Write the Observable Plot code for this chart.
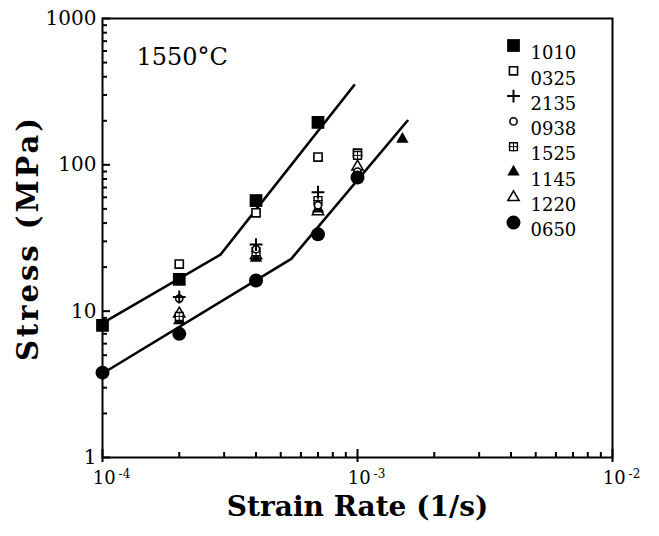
<!DOCTYPE html>
<html>
<head>
<meta charset="utf-8">
<script src="https://cdn.jsdelivr.net/npm/d3@7"></script>
<script src="https://cdn.jsdelivr.net/npm/@observablehq/plot@0.6"></script>
<style>
  html, body { margin: 0; padding: 0; background: #fff; }
</style>
</head>
<body>
<div id="chart"></div>
<script>
// Series names (legend order)
const seriesNames = ["1010", "0325", "2135", "0938", "1525", "1145", "1220", "0650"];

// Measured points: strain rate (1/s) and stress (MPa) per specimen
const rate1010 = [1e-4, 2e-4, 4e-4, 7e-4];
const stress1010 = [8.0, 16.5, 57, 195];
const rate0325 = [2e-4, 4e-4, 7e-4, 1e-3];
const stress0325 = [21, 47, 113, 120];
const rate2135 = [2e-4, 4e-4, 7e-4];
const stress2135 = [12.5, 28.5, 65];
const rate0938 = [2e-4, 4e-4, 7e-4, 1e-3];
const stress0938 = [12.2, 26.5, 53, 90];
const rate1525 = [2e-4, 4e-4, 7e-4, 1e-3];
const stress1525 = [9.2, 25.5, 57, 116];
const rate1145 = [2e-4, 4e-4, 7e-4, 1.5e-3];
const stress1145 = [8.6, 23, 50, 150];
const rate1220 = [2e-4, 4e-4, 7e-4, 1e-3];
const stress1220 = [9.6, 24, 48, 97];
const rate0650 = [1e-4, 2e-4, 4e-4, 7e-4, 1e-3];
const stress0650 = [3.8, 7.0, 16.2, 33.5, 82];

// Fitted lines (two-segment)
const upperRate = [1e-4, 2.9e-4, 9.7e-4];
const upperStress = [8.3, 24.3, 350];
const lowerRate = [1e-4, 5.5e-4, 1.57e-3];
const lowerStress = [3.75, 22.8, 200];

// Axis ticks
const yMajor = [1, 10, 100, 1000];
const yMinor = [2,3,4,5,6,7,8,9,20,30,40,50,60,70,80,90,200,300,400,500,600,700,800,900];
const xMajor = [1e-4, 1e-3, 1e-2];
const xMinor = [2e-4,3e-4,4e-4,5e-4,6e-4,7e-4,8e-4,9e-4,2e-3,3e-3,4e-3,5e-3,6e-3,7e-3,8e-3,9e-3];

const title = "1550°C";
const xLabel = "Strain Rate (1/s)";
const yLabel = "Stress (MPa)";

const zip = (xs, ys) => xs.map((x, i) => ({x, y: ys[i]}));
const pts = {
  "1010": zip(rate1010, stress1010),
  "0325": zip(rate0325, stress0325),
  "2135": zip(rate2135, stress2135),
  "0938": zip(rate0938, stress0938),
  "1525": zip(rate1525, stress1525),
  "1145": zip(rate1145, stress1145),
  "1220": zip(rate1220, stress1220),
  "0650": zip(rate0650, stress0650)
};

// marker styles
const styles = {
  "1010": [{symbol: "square", r: 7.2, fill: "black", stroke: "none"}],
  "0325": [{symbol: "square", r: 4.6, fill: "white", stroke: "black", strokeWidth: 1.6}],
  "2135": [{symbol: "plus", r: 4.2, fill: "none", stroke: "black", strokeWidth: 2}],
  "0938": [{symbol: "circle", r: 3.6, fill: "white", stroke: "black", strokeWidth: 1.6}],
  "1525": [{symbol: "square", r: 4.4, fill: "white", stroke: "black", strokeWidth: 1.4},
           {symbol: "plus", r: 3.2, fill: "none", stroke: "black", strokeWidth: 1}],
  "1145": [{symbol: "triangle", r: 4.6, fill: "black", stroke: "none"}],
  "1220": [{symbol: "triangle", r: 4.2, fill: "white", stroke: "black", strokeWidth: 1.5}],
  "0650": [{symbol: "circle", r: 7, fill: "black", stroke: "none"}]
};

const marks = [];
// fitted lines
marks.push(Plot.line(zip(upperRate, upperStress), {x: "x", y: "y", stroke: "black", strokeWidth: 2.6}));
marks.push(Plot.line(zip(lowerRate, lowerStress), {x: "x", y: "y", stroke: "black", strokeWidth: 2.6}));

// points
const drawOrder = ["0325", "1220", "1145", "1525", "0938", "2135", "0650", "1010"];
for (const name of drawOrder) {
  for (const st of styles[name]) {
    marks.push(Plot.dot(pts[name], {x: "x", y: "y", ...st}));
  }
}

// legend (inside frame, top-right)
seriesNames.forEach((name, i) => {
  for (const st of styles[name]) {
    marks.push(Plot.dot([name], {frameAnchor: "top-left", dx: 411, dy: 27 + 25.3 * i, ...st}));
  }
  marks.push(Plot.text([name], {text: d => d, frameAnchor: "top-left", dx: 428, dy: 28 + 25.3 * i,
    textAnchor: "start", fontSize: 18, fill: "black"}));
});

// title in plot
marks.push(Plot.text([title], {text: d => d, frameAnchor: "top-left", dx: 34, dy: 29, textAnchor: "start",
  fontSize: 24, fill: "black"}));

// axes labels
marks.push(Plot.text([yLabel], {text: d => d, frameAnchor: "left", dx: -74, rotate: -90, textAnchor: "middle",
  fontSize: 29, fontWeight: "bold", fill: "black"}));
marks.push(Plot.text([xLabel], {text: d => d, frameAnchor: "bottom", dy: 58, textAnchor: "middle",
  fontSize: 28, fontWeight: "bold", fill: "black"}));

// y axis labels & ticks (ticks drawn inward)
marks.push(Plot.axisY({ticks: yMajor, tickSize: 0, tickPadding: 6, tickFormat: d => String(d), fontSize: 20, label: null}));
marks.push(Plot.axisY({ticks: yMajor, tickSize: 8, dx: 8, tickFormat: () => "", label: null, strokeWidth: 2}));
marks.push(Plot.axisY({ticks: yMinor, tickSize: 5, dx: 5, tickFormat: () => "", label: null, strokeWidth: 2}));
// x axis labels & ticks
marks.push(Plot.axisX({ticks: xMajor, tickSize: 0, tickPadding: 14, dx: 9,
  tickFormat: d => "10^" + Math.round(Math.log10(d)), fontSize: 18, label: null}));
marks.push(Plot.axisX({ticks: xMajor, tickSize: 13, dy: -8, tickFormat: () => "", label: null, strokeWidth: 2}));
marks.push(Plot.axisX({ticks: xMinor, tickSize: 5, dy: -5, tickFormat: () => "", label: null, strokeWidth: 2}));

marks.push(Plot.frame({stroke: "black", strokeWidth: 2}));

const chart = Plot.plot({
  width: 659,
  height: 536,
  marginLeft: 102,
  marginRight: 47,
  marginTop: 18,
  marginBottom: 79,
  style: {fontFamily: "'DejaVu Serif', serif", color: "black", background: "white"},
  x: {type: "log", domain: [1e-4, 1e-2]},
  y: {type: "log", domain: [1, 1000]},
  marks
});
document.getElementById("chart").appendChild(chart);

// superscript exponent on x tick labels; letter spacing on y label
chart.querySelectorAll("text").forEach((t) => {
  const s = t.textContent;
  if (s.startsWith("10^")) {
    const exp = s.slice(3);
    t.textContent = "10";
    const ts = document.createElementNS("http://www.w3.org/2000/svg", "tspan");
    ts.setAttribute("dy", "-0.55em");
    ts.setAttribute("dx", "0.25em");
    ts.setAttribute("font-size", "12");
    ts.textContent = exp;
    t.appendChild(ts);
  }
  if (s === yLabel) t.setAttribute("letter-spacing", "3");
});
</script>
</body>
</html>
